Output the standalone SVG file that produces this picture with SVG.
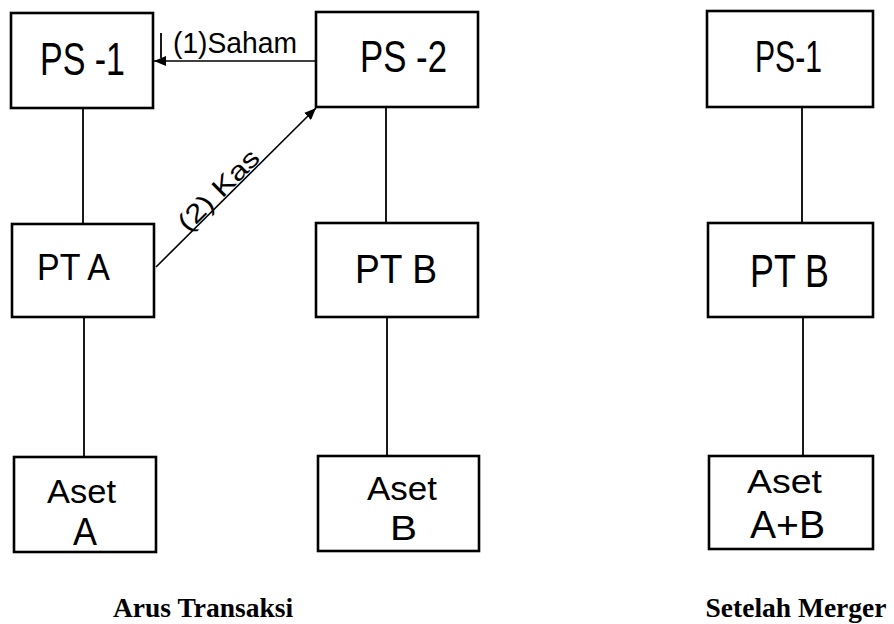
<svg xmlns="http://www.w3.org/2000/svg" width="894" height="624" viewBox="0 0 894 624">
  <defs>
    <marker id="head" viewBox="0 0 12 10" refX="12" refY="5" markerWidth="12" markerHeight="10" markerUnits="userSpaceOnUse" orient="auto">
      <path d="M0,0 L12,5 L0,10 Z" fill="#000"/>
    </marker>
    <style>
      .box { fill: #fff; stroke: #000; stroke-width: 2.6; }
      .hand { font-family: "Liberation Sans", "DejaVu Sans", sans-serif; fill: #000; }
      .link { stroke: #000; stroke-width: 1.8; fill: none; }
      .flow { stroke: #000; stroke-width: 1.6; fill: none; marker-end: url(#head); }
      .caption { font-family: "Liberation Serif", "Times New Roman", serif; font-size: 27.5px; font-weight: bold; fill: #000; text-anchor: middle; }
    </style>
  </defs>
  <rect width="894" height="624" fill="#fff"/>

  <!-- connectors -->
  <g id="connectors">
    <line class="link" x1="83" y1="108" x2="83" y2="224"/>
    <line class="link" x1="84" y1="317" x2="84" y2="457"/>
    <line class="link" x1="386" y1="107" x2="386" y2="223"/>
    <line class="link" x1="387" y1="317" x2="387" y2="456"/>
    <line class="link" x1="802" y1="107" x2="802" y2="223"/>
    <line class="link" x1="803" y1="317" x2="803" y2="456"/>
    <!-- (1) Saham: PS-2 to PS-1 -->
    <line class="flow" x1="316" y1="61" x2="154" y2="61"/>
    <line class="link" x1="161" y1="33" x2="161" y2="58" stroke-width="1.2"/>
    <!-- (2) Kas: PT A to PS-2 -->
    <line class="flow" x1="156" y1="267" x2="316" y2="108"/>
    <text class="hand" x="188" y="233" font-size="26" textLength="104" lengthAdjust="spacingAndGlyphs" transform="rotate(-45 188 233)">(2) Kas</text>
    <text class="hand" x="173" y="53" font-size="30" textLength="124" lengthAdjust="spacingAndGlyphs">(1)Saham</text>
  </g>

  <!-- left column -->
  <g id="ps1">
    <rect class="box" x="11" y="13" width="142" height="95"/>
    <text class="hand" x="40" y="75" font-size="46" textLength="85" lengthAdjust="spacingAndGlyphs">PS -1</text>
  </g>
  <g id="pta">
    <rect class="box" x="12" y="224" width="142" height="93"/>
    <text class="hand" x="37" y="280" font-size="36" textLength="73" lengthAdjust="spacingAndGlyphs">PT A</text>
  </g>
  <g id="aset-a">
    <rect class="box" x="14" y="457" width="142" height="95"/>
    <text class="hand" x="47" y="503" font-size="34" textLength="69" lengthAdjust="spacingAndGlyphs">Aset</text>
    <text class="hand" x="73" y="545" font-size="38" textLength="24" lengthAdjust="spacingAndGlyphs">A</text>
  </g>

  <!-- middle column -->
  <g id="ps2">
    <rect class="box" x="316" y="12" width="162" height="95"/>
    <text class="hand" x="360" y="72" font-size="44" textLength="87" lengthAdjust="spacingAndGlyphs">PS -2</text>
  </g>
  <g id="ptb">
    <rect class="box" x="316" y="223" width="162" height="94"/>
    <text class="hand" x="355" y="283" font-size="40" textLength="82" lengthAdjust="spacingAndGlyphs">PT B</text>
  </g>
  <g id="aset-b">
    <rect class="box" x="318" y="456" width="161" height="95"/>
    <text class="hand" x="367" y="500" font-size="33" textLength="70" lengthAdjust="spacingAndGlyphs">Aset</text>
    <text class="hand" x="390" y="540" font-size="35" textLength="27" lengthAdjust="spacingAndGlyphs">B</text>
  </g>

  <!-- right column -->
  <g id="ps1-merged">
    <rect class="box" x="707" y="11" width="166" height="96"/>
    <text class="hand" x="755" y="72" font-size="44" textLength="67" lengthAdjust="spacingAndGlyphs">PS-1</text>
  </g>
  <g id="ptb-merged">
    <rect class="box" x="708" y="223" width="165" height="94"/>
    <text class="hand" x="750" y="287" font-size="46" textLength="79" lengthAdjust="spacingAndGlyphs">PT B</text>
  </g>
  <g id="aset-ab">
    <rect class="box" x="709" y="456" width="164" height="93"/>
    <text class="hand" x="747" y="493" font-size="34" textLength="75" lengthAdjust="spacingAndGlyphs">Aset</text>
    <text class="hand" x="750" y="538" font-size="39" textLength="75" lengthAdjust="spacingAndGlyphs">A+B</text>
  </g>

  <!-- captions -->
  <text class="caption" x="203" y="617">Arus Transaksi</text>
  <text class="caption" x="796" y="617">Setelah Merger</text>
</svg>
